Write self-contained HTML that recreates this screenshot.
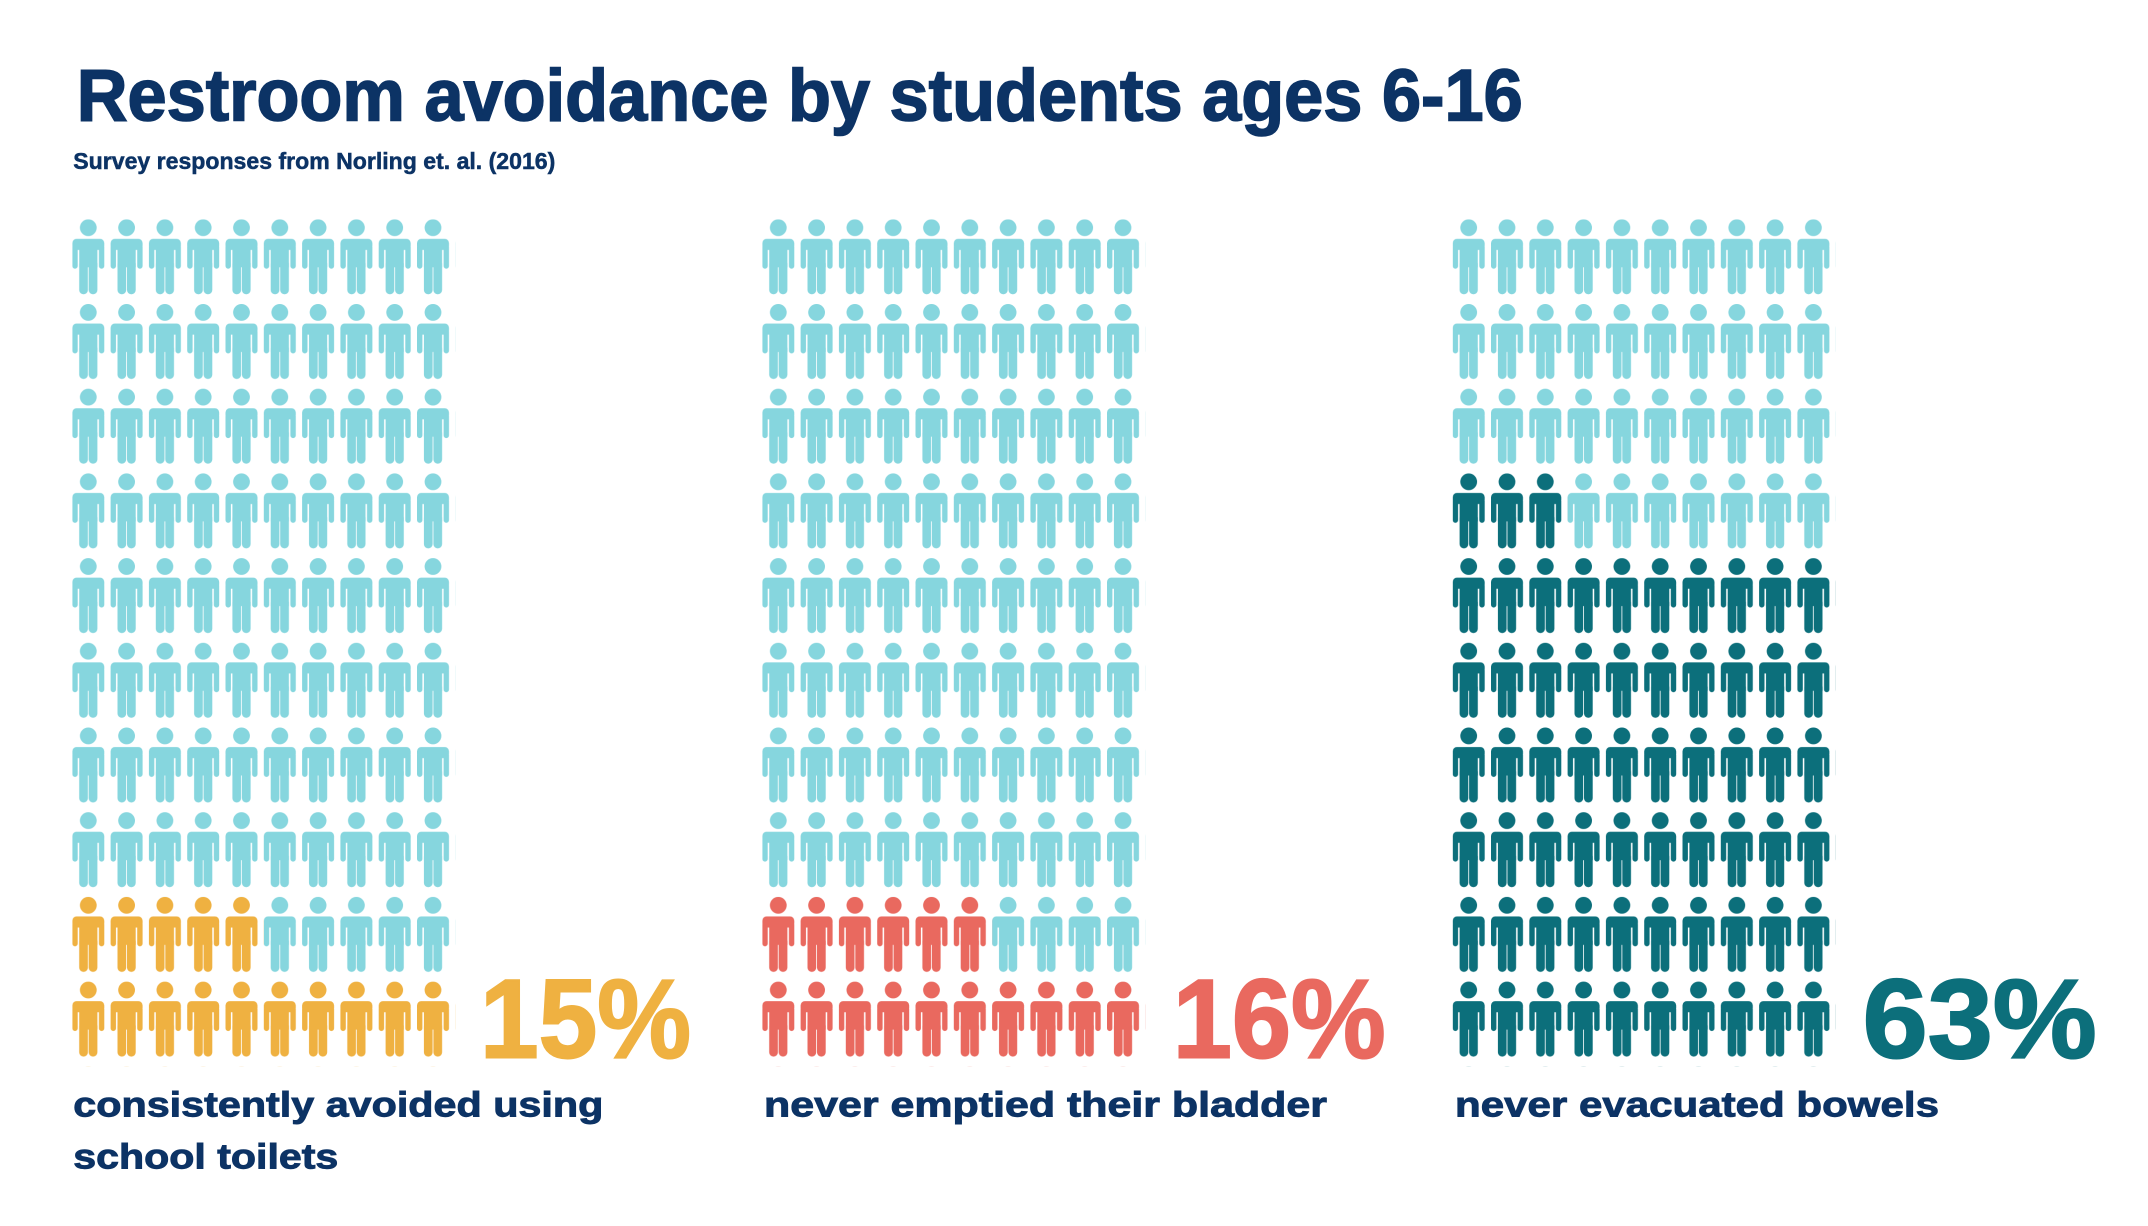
<!DOCTYPE html>
<html>
<head>
<meta charset="utf-8">
<style>
  html, body { margin: 0; padding: 0; background: #ffffff; }
  svg { display: block; }
  text { font-family: "Liberation Sans", "DejaVu Sans", sans-serif; font-weight: bold; }
</style>
</head>
<body>
<svg width="2148" height="1226" viewBox="0 0 2148 1226" xmlns="http://www.w3.org/2000/svg">
  <defs>
    <g id="ic">
      <circle cx="16" cy="8.4" r="8.4"/>
      <rect x="0" y="19.6" width="32" height="11" rx="4.2"/>
      <rect x="0" y="25" width="5.4" height="24.4" rx="2.7"/>
      <rect x="26.6" y="25" width="5.4" height="24.4" rx="2.7"/>
      <rect x="6.9" y="24" width="18.2" height="24"/>
      <rect x="6.9" y="40" width="8.7" height="35" rx="4.2"/>
      <rect x="16.4" y="40" width="8.7" height="35" rx="4.2"/>
    </g>
    <pattern id="pl" patternUnits="userSpaceOnUse" x="0" y="0" width="38.3" height="84.7"><use href="#ic" fill="#86d6de"/></pattern>
    <pattern id="po" patternUnits="userSpaceOnUse" x="0" y="0" width="38.3" height="84.7"><use href="#ic" fill="#efb141"/></pattern>
    <pattern id="pr" patternUnits="userSpaceOnUse" x="0" y="0" width="38.3" height="84.7"><use href="#ic" fill="#e9695f"/></pattern>
    <pattern id="pd" patternUnits="userSpaceOnUse" x="0" y="0" width="38.3" height="84.7"><use href="#ic" fill="#0c6f7b"/></pattern>
  </defs>

  <!-- Title -->
  <text x="76.7" y="120.5" font-size="73" fill="#0c3365" stroke="#0c3365" stroke-width="1.6" textLength="1446" lengthAdjust="spacingAndGlyphs">Restroom avoidance by students ages 6-16</text>
  <text x="73.3" y="169" font-size="23" fill="#0c3365" stroke="#0c3365" stroke-width="0.5" textLength="482" lengthAdjust="spacingAndGlyphs">Survey responses from Norling et. al. (2016)</text>

  <!-- Panel 1: 15% -->
  <g transform="translate(72.3,219.3)">
    <rect x="0" y="0" width="383" height="677.6" fill="url(#pl)"/>
    <rect x="191.5" y="677.6" width="191.5" height="84.7" fill="url(#pl)"/>
    <rect x="0" y="677.6" width="191.5" height="84.7" fill="url(#po)"/>
    <rect x="0" y="762.3" width="383" height="84.7" fill="url(#po)"/>
  </g>

  <!-- Panel 2: 16% -->
  <g transform="translate(762.3,219.3)">
    <rect x="0" y="0" width="383" height="677.6" fill="url(#pl)"/>
    <rect x="229.8" y="677.6" width="153.2" height="84.7" fill="url(#pl)"/>
    <rect x="0" y="677.6" width="229.8" height="84.7" fill="url(#pr)"/>
    <rect x="0" y="762.3" width="383" height="84.7" fill="url(#pr)"/>
  </g>

  <!-- Panel 3: 63% -->
  <g transform="translate(1452.7,219.3)">
    <rect x="0" y="0" width="383" height="254.1" fill="url(#pl)"/>
    <rect x="114.9" y="254.1" width="268.1" height="84.7" fill="url(#pl)"/>
    <rect x="0" y="254.1" width="114.9" height="84.7" fill="url(#pd)"/>
    <rect x="0" y="338.8" width="383" height="508.2" fill="url(#pd)"/>
  </g>

  <!-- Percentages -->
  <text x="480" y="1057.3" font-size="112" fill="#efb141" stroke="#efb141" stroke-width="2" textLength="211" lengthAdjust="spacingAndGlyphs">15%</text>
  <text x="1172.7" y="1057.3" font-size="112" fill="#e9695f" stroke="#e9695f" stroke-width="2" textLength="213" lengthAdjust="spacingAndGlyphs">16%</text>
  <text x="1862.7" y="1057.3" font-size="112" fill="#0c6f7b" stroke="#0c6f7b" stroke-width="2" textLength="234" lengthAdjust="spacingAndGlyphs">63%</text>

  <!-- Labels -->
  <text x="73.3" y="1116.5" font-size="35" fill="#0c3365" stroke="#0c3365" stroke-width="0.9" textLength="530" lengthAdjust="spacingAndGlyphs">consistently avoided using</text>
  <text x="73.3" y="1168.3" font-size="35" fill="#0c3365" stroke="#0c3365" stroke-width="0.9" textLength="265" lengthAdjust="spacingAndGlyphs">school toilets</text>
  <text x="764" y="1116.5" font-size="35" fill="#0c3365" stroke="#0c3365" stroke-width="0.9" textLength="563" lengthAdjust="spacingAndGlyphs">never emptied their bladder</text>
  <text x="1455" y="1116.5" font-size="35" fill="#0c3365" stroke="#0c3365" stroke-width="0.9" textLength="484" lengthAdjust="spacingAndGlyphs">never evacuated bowels</text>
</svg>
</body>
</html>
